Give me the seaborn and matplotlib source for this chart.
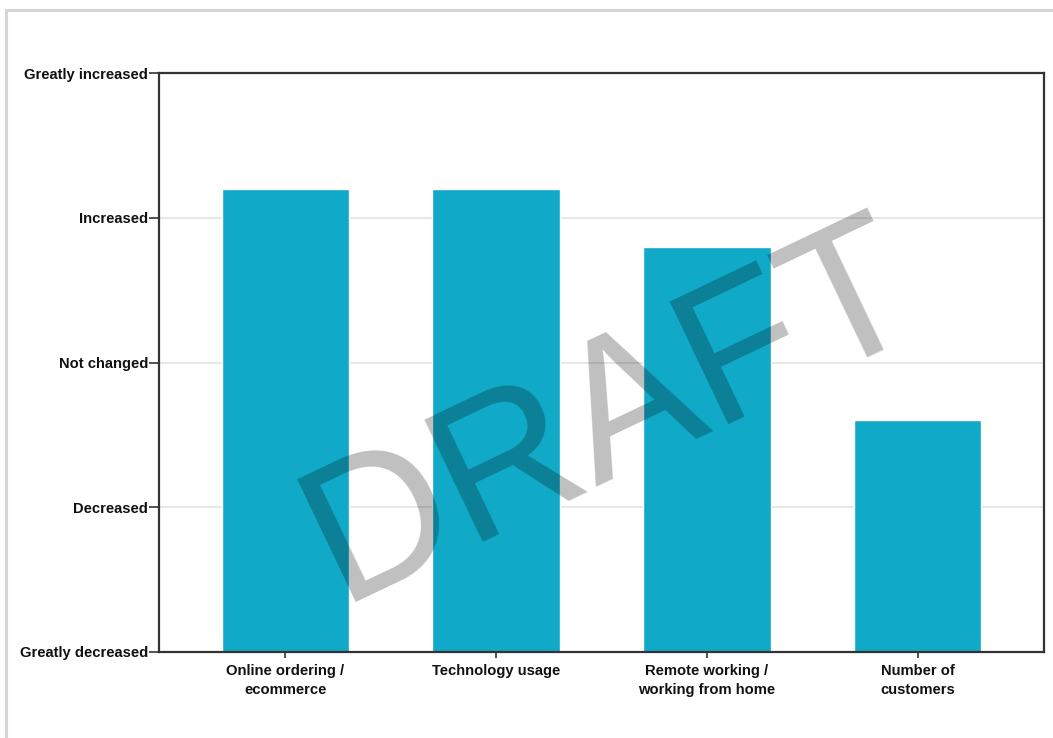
import matplotlib
matplotlib.use("Agg")
import matplotlib.pyplot as plt
import seaborn as sns
import pandas as pd
from matplotlib.patches import Rectangle

categories = ["Online ordering /\necommerce", "Technology usage",
              "Remote working /\nworking from home", "Number of\ncustomers"]
values = [4.2, 4.2, 3.8, 2.6]
level_values = [1, 2, 3, 4, 5]
level_labels = ["Greatly decreased", "Decreased", "Not changed", "Increased", "Greatly increased"]

sns.set_theme(style="white")
plt.rcParams['font.family'] = ['Liberation Sans', 'DejaVu Sans']

fig = plt.figure(figsize=(10.53, 7.38), dpi=100)
ax = fig.add_axes([159/1053, 1-652/738, (1044-159)/1053, (652-73)/738])

df = pd.DataFrame({"category": categories, "value": values})
sns.barplot(data=df, x="category", y="value", color="#10aac8", saturation=1,
            width=0.605, ax=ax, zorder=2)

ax.set_ylim(1, 5)
ax.set_xlim(-0.6, 3.6)
ax.set_yticks(level_values)
ax.set_yticklabels(level_labels)
ax.set_xlabel("")
ax.set_ylabel("")
ax.grid(axis="y", color="#e3e3e3", linewidth=1.2, zorder=0)
ax.set_axisbelow(True)
for s in ax.spines.values():
    s.set_visible(True)
    s.set_color("#333333")
    s.set_linewidth(1.6)
ax.tick_params(axis="y", length=7.5, width=1.2, color="#333333", pad=0.5,
               labelsize=10.6, labelcolor="#111111", left=True)
ax.tick_params(axis="x", length=4.5, width=1.2, color="#333333", pad=4,
               labelsize=10.6, labelcolor="#111111", bottom=True)
for lab in ax.get_yticklabels() + ax.get_xticklabels():
    lab.set_fontweight("bold")
for lab in ax.get_xticklabels():
    lab.set_linespacing(1.45)

# watermark
fig.text(0.582, 0.438, "DRAFT", fontsize=141, color="black", alpha=0.25,
         rotation=25.5, ha="center", va="center", zorder=10)

# figure frame
fig.patches.append(Rectangle((6/1053, -0.1), 1.2, 1 - 10/738 + 0.1,
                             transform=fig.transFigure, fill=False,
                             edgecolor="#d6d6d6", linewidth=2.2, zorder=0))

fig.savefig("out.png", dpi=100, facecolor="white")
